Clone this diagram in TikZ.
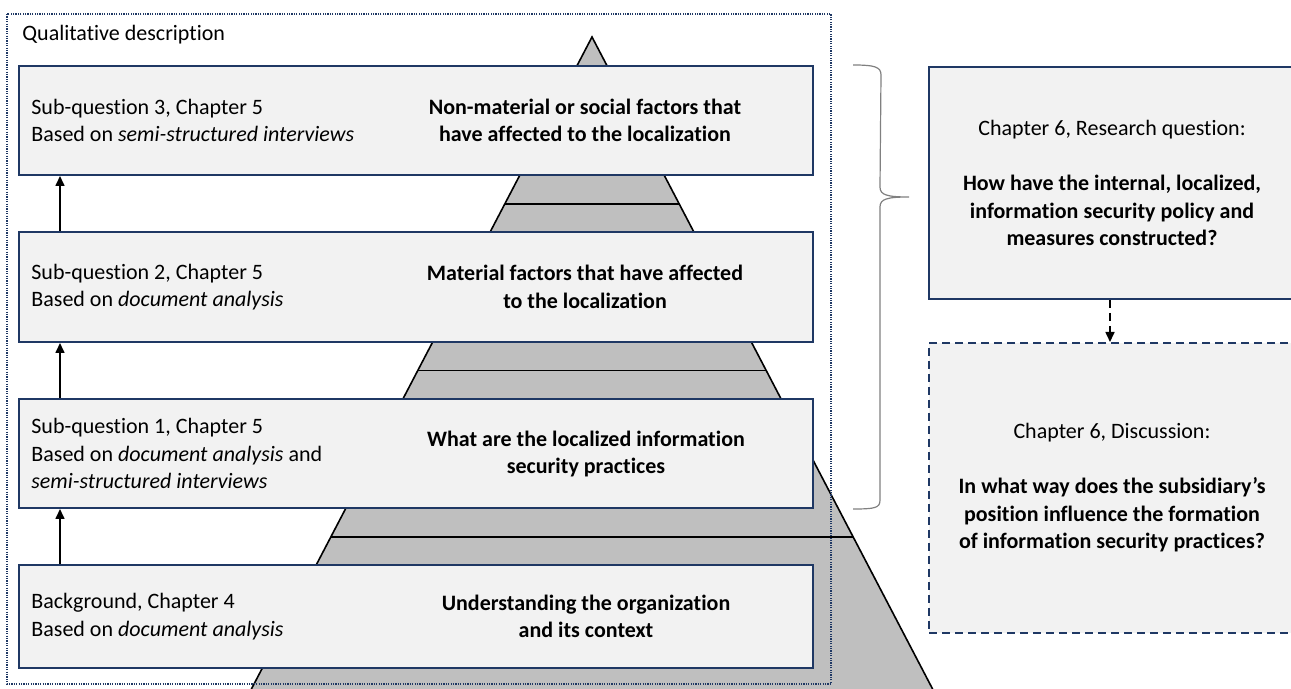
\documentclass[tikz,border=0pt]{standalone}
\usepackage{fontspec}
\setmainfont{Carlito}[Ligatures={NoCommon}]
\usetikzlibrary{positioning,arrows.meta}
\definecolor{navy}{HTML}{1F3864}
\definecolor{boxgray}{HTML}{F2F2F2}
\definecolor{pyrgray}{HTML}{BFBFBF}

\begin{document}
\begin{tikzpicture}[x=0.5pt, y=-0.5pt,
	level/.style={draw=navy, line width=1pt, fill=boxgray, minimum width=397pt, inner sep=0pt},
	source/.style={anchor=west, align=left, inner sep=0pt, font=\fontsize{11}{13.75}\selectfont},
	topic/.style={align=center, inner sep=0pt, font=\fontsize{11}{13.75}\selectfont\bfseries},
	rq/.style={draw=navy, line width=1pt, fill=boxgray, minimum width=183pt, align=center, font=\fontsize{11}{13.75}\selectfont},
	up/.style={-{Triangle[length=5pt,width=4.5pt]}, line width=0.8pt}]
	\useasboundingbox (0,0) rectangle (1291,689);

	% pyramid, base runs off the page
	\coordinate (A) at (592,37);
	\coordinate (L) at (230,730);
	\coordinate (R) at (954,730);
	\fill[pyrgray] (A) -- (L) -- (R) -- cycle;
	\draw[line width=0.8pt] (L) -- (A) -- (R);
	\draw[line width=0.8pt] (505,204) -- (679,204);
	\draw[line width=0.8pt] (418,370.5) -- (766,370.5);
	\draw[line width=0.8pt] (331,537) -- (853,537);

	% frame round the four levels
	\draw[navy, line width=0.6pt, dash pattern=on 0.6pt off 0.6pt] (7,14) rectangle (831,684);
	\node[source] (qual) at (22,35) {Qualitative description};

	% levels
	\node[level, minimum height=54.5pt] (q3) at (416,120.5) {};
	\node[level, minimum height=55pt] (q2) at (416,287) {};
	\node[level, minimum height=54.5pt] (q1) at (416,453.5) {};
	\node[level, minimum height=51.5pt] (bg) at (416,616.5) {};

	\node[source] (q3src) at ([xshift=6.5pt]q3.west) {Sub-question 3, Chapter 5\\Based on \textit{semi-structured interviews}};
	\node[source] (q2src) at ([xshift=6.5pt]q2.west) {Sub-question 2, Chapter 5\\Based on \textit{document analysis}};
	\node[source] (q1src) at ([xshift=6.5pt]q1.west) {Sub-question 1, Chapter 5\\Based on \textit{document analysis} and\\\textit{semi-structured interviews}};
	\node[source] (bgsrc) at ([xshift=6.5pt]bg.west) {Background, Chapter 4\\Based on \textit{document analysis}};

	\node[topic] (q3topic) at (585,120.5) {Non-material or social factors that\\have affected to the localization};
	\node[topic] (q2topic) at (585,287) {Material factors that have affected\\to the localization};
	\node[topic] (q1topic) at (586,454) {What are the localized information\\security practices};
	\node[topic] (bgtopic) at (586,616.5) {Understanding the organization\\and its context};

	\draw[up] ([xshift=21pt]bg.north west) -- ([xshift=21pt]q1.south west);
	\draw[up] ([xshift=21pt]q1.north west) -- ([xshift=21pt]q2.south west);
	\draw[up] ([xshift=21pt]q2.north west) -- ([xshift=21pt]q3.south west);

	% brace over the three sub-questions
	\coordinate (bt) at ([xshift=19.5pt]q3.north east);
	\coordinate (bb) at ([xshift=19.5pt]q1.south east);
	\draw[gray, line width=0.6pt] (bt) .. controls +(22,0) and +(0,-8) .. ++(28,10) -- (880,187)
		.. controls +(0,8) and +(-22,0) .. ++(29,10) coordinate (tip)
		.. controls +(-22,0) and +(0,-8) .. ++(-29,10) -- (880,500)
		.. controls +(0,8) and +(22,0) .. (bb);

	% research question and discussion
	\node[rq, minimum height=116pt] (rq) at (1112,183) {Chapter 6, Research question:\\[13.75pt]
		\textbf{How have the internal, localized,}\\\textbf{information security policy and}\\\textbf{measures constructed?}};
	\node[rq, dash pattern=on 4pt off 2.5pt, minimum height=145pt] (disc) at (1112,488) {Chapter 6, Discussion:\\[13.75pt]
		\textbf{In what way does the subsidiary’s}\\\textbf{position influence the formation}\\\textbf{of information security practices?}};
	\draw[up, dash pattern=on 4pt off 2.5pt] ([xshift=-1pt]rq.south) -- ([xshift=-1pt]disc.north);
\end{tikzpicture}
\end{document}
